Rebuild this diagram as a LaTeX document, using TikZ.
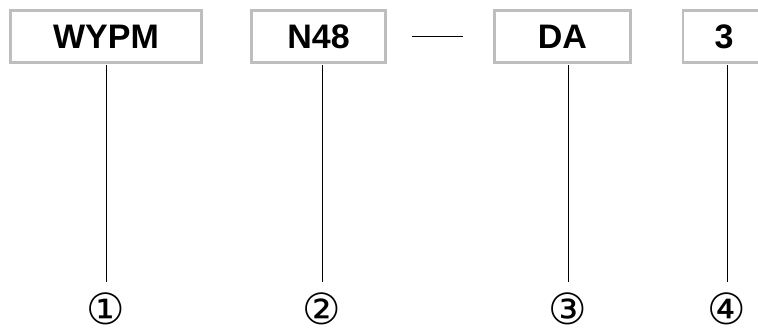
\documentclass[tikz,border=0pt]{standalone}
\usepackage{fontspec}
\setmainfont{Liberation Sans}
\newfontfamily\circleFont{DejaVu Sans}
\usetikzlibrary{positioning}
\definecolor{boxColor}{RGB}{190,190,190}
\tikzstyle{codeBoxStyle} = [draw=boxColor, line width=2.6pt, inner sep=0pt, minimum height=52pt, font=\fontsize{34}{40}\selectfont\bfseries]
\tikzstyle{leaderLine} = [color=black, line width=1pt]
\tikzstyle{circledNumber} = [inner sep=0pt, font=\fontsize{43}{48}\selectfont\circleFont]
\newcommand{\codeBox}[4]{\node [codeBoxStyle, minimum width=#3pt] (#1) at (#2, 36.5) {#4};}

\begin{document}
\begin{tikzpicture}[x=1pt, y=-1pt]
  \useasboundingbox (0,0) rectangle (758,329);
  \codeBox{wypm}{106}{191}{WYPM}
  \codeBox{n48}{318.5}{134}{N48}
  \codeBox{da}{562.5}{136}{DA}
  \codeBox{three}{724}{82}{3}

  % dash between N48 and DA
  \draw [leaderLine] ([xshift=25pt]n48.east) -- ([xshift=-30pt]da.west);

  % leader lines down to the circled numbers
  \foreach \boxName/\xpos/\idx/\glyph in {wypm/106/1/①, n48/322/2/②, da/568/3/③, three/727/4/④} {
    \node [circledNumber] (mark\idx) at (\xpos, 309) {\glyph};
    \coordinate (tip\idx) at (\xpos, 282);
    \draw [leaderLine] ([yshift=-1.3pt]\boxName.south -| tip\idx) -- (tip\idx);
  }
\end{tikzpicture}
\end{document}
